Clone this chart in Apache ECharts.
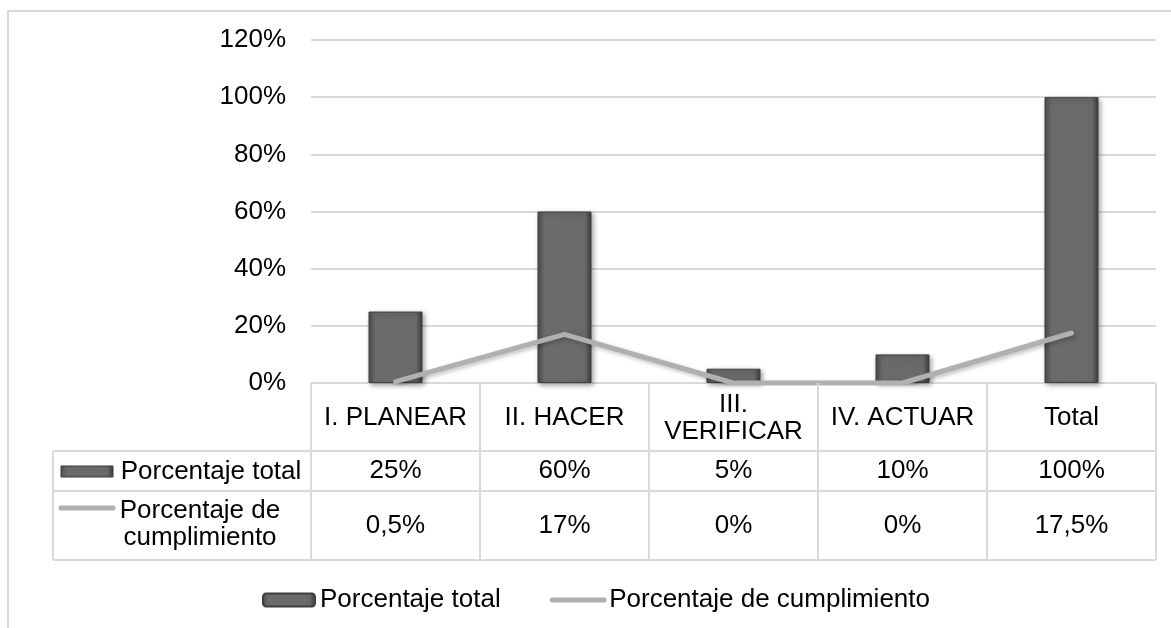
<!DOCTYPE html>
<html>
<head>
    <meta charset="utf-8">
    <title>ECharts</title>
    <script src="https://cdn.jsdelivr.net/npm/echarts@6/dist/echarts.min.js"></script>
    <style>
        body { margin: 0; background: #fff; }
    </style>
</head>
<body>
<div id="main" style="width: 1171px;height:628px;"></div>
<script type="text/javascript">
    // datos
    var categorias = ['I. PLANEAR', 'II. HACER', 'III.\nVERIFICAR', 'IV. ACTUAR', 'Total'];
    var porcentajeTotal = [0.25, 0.60, 0.05, 0.10, 1.00];
    var porcentajeCumplimiento = [0.005, 0.17, 0, 0, 0.175];
    var etiquetasTotal = ['25%', '60%', '5%', '10%', '100%'];
    var etiquetasCumplimiento = ['0,5%', '17%', '0%', '0%', '17,5%'];
    var nombreBarra = 'Porcentaje total';
    var nombreLinea = 'Porcentaje de cumplimiento';

    var fuente = 'Liberation Sans, Arial, sans-serif';
    var gris = '#d9d9d9';

    // zona del gráfico
    var gLeft = 311, gRight = 1156, gTop = 40, gBottom = 383;
    var fila1 = 451, fila2 = 491, fila3 = 560, colIzq = 53;
    var anchoCat = (gRight - gLeft) / categorias.length;

    var barraColor = new echarts.graphic.LinearGradient(0, 0, 1, 0, [
        {offset: 0, color: '#4c4c4c'},
        {offset: 0.12, color: '#6b6b6b'},
        {offset: 0.88, color: '#696969'},
        {offset: 1, color: '#3a3a3a'}
    ]);

    function linea(x1, y1, x2, y2) {
        return {type: 'line', silent: true, z: 10,
            shape: {x1: x1, y1: y1, x2: x2, y2: y2},
            style: {stroke: gris, lineWidth: 2}};
    }
    function texto(x, y, t) {
        return {type: 'text', silent: true, z: 10, x: x, y: y,
            style: {text: t, fill: '#000', font: '26px ' + fuente,
                align: 'center', verticalAlign: 'middle', lineHeight: 27}};
    }

    var graficos = [];
    // borde exterior
    graficos.push({type: 'rect', silent: true, shape: {x: 8, y: 11, width: 1300, height: 800},
        style: {fill: 'none', stroke: gris, lineWidth: 2}});
    // tabla de datos
    graficos.push(linea(colIzq, fila1, gRight, fila1));
    graficos.push(linea(colIzq, fila2, gRight, fila2));
    graficos.push(linea(colIzq, fila3, gRight, fila3));
    graficos.push(linea(colIzq, fila1, colIzq, fila3));
    for (var i = 0; i <= categorias.length; i++) {
        var xv = gLeft + anchoCat * i;
        graficos.push(linea(xv, gBottom, xv, fila3));
    }
    for (var j = 0; j < categorias.length; j++) {
        var xc = gLeft + anchoCat * (j + 0.5);
        graficos.push(texto(xc, (gBottom + fila1) / 2 + 1, categorias[j]));
        graficos.push(texto(xc, (fila1 + fila2) / 2, etiquetasTotal[j]));
        graficos.push(texto(xc, (fila2 + fila3) / 2, etiquetasCumplimiento[j]));
    }
    // leyenda de la tabla
    graficos.push({type: 'rect', silent: true, z: 10, shape: {x: 61, y: 466, width: 52, height: 11},
        style: {fill: barraColor, stroke: '#3a3a3a', lineWidth: 1}});
    graficos.push({type: 'text', silent: true, z: 10, x: 211, y: 472,
        style: {text: nombreBarra, fill: '#000', font: '26px ' + fuente, align: 'center', verticalAlign: 'middle'}});
    graficos.push({type: 'line', silent: true, z: 10, shape: {x1: 61, y1: 508, x2: 113, y2: 508},
        style: {stroke: '#b0b0b0', lineWidth: 5, lineCap: 'round'}});
    graficos.push({type: 'text', silent: true, z: 10, x: 200, y: 524,
        style: {text: 'Porcentaje de\ncumplimiento', fill: '#000', font: '26px ' + fuente,
            align: 'center', verticalAlign: 'middle', lineHeight: 27}});

    var myChart = echarts.init(document.getElementById('main'));
    var option = {
        animation: false,
        backgroundColor: '#fff',
        grid: {left: gLeft, right: 1171 - gRight, top: gTop, bottom: 628 - gBottom},
        legend: {
            left: 262,
            top: 587,
            padding: 0,
            itemWidth: 52,
            itemHeight: 13,
            itemGap: 49,
            textStyle: {fontFamily: fuente, fontSize: 26, color: '#000'},
            data: [
                {name: nombreBarra},
                {name: nombreLinea, itemStyle: {opacity: 0},
                    lineStyle: {width: 5, color: '#b0b0b0', cap: 'round'}}
            ]
        },
        xAxis: {
            type: 'category',
            data: categorias,
            axisLine: {show: false},
            axisTick: {show: false},
            axisLabel: {show: false}
        },
        yAxis: {
            type: 'value',
            min: 0,
            max: 1.2,
            interval: 0.2,
            axisLine: {show: false},
            axisTick: {show: false},
            axisLabel: {
                margin: 25,
                color: '#000',
                fontFamily: fuente,
                fontSize: 26,
                formatter: function (v) { return Math.round(v * 100) + '%'; }
            },
            splitLine: {lineStyle: {color: gris, width: 2}}
        },
        series: [
            {
                name: nombreBarra,
                type: 'bar',
                barWidth: 54,
                data: porcentajeTotal,
                itemStyle: {
                    color: barraColor,
                    borderColor: '#3e3e3e',
                    borderWidth: 1,
                    shadowBlur: 5,
                    shadowColor: 'rgba(0,0,0,0.35)',
                    shadowOffsetX: 2,
                    shadowOffsetY: 2
                }
            },
            {
                name: nombreLinea,
                type: 'line',
                data: porcentajeCumplimiento,
                symbol: 'none',
                z: 5,
                lineStyle: {
                    color: '#b0b0b0',
                    width: 5,
                    cap: 'round',
                    shadowBlur: 4,
                    shadowColor: 'rgba(0,0,0,0.25)',
                    shadowOffsetX: 2,
                    shadowOffsetY: 2
                },
                itemStyle: {color: '#b0b0b0'}
            }
        ],
        graphic: graficos
    };
    myChart.setOption(option);
</script>
</body>
</html>
